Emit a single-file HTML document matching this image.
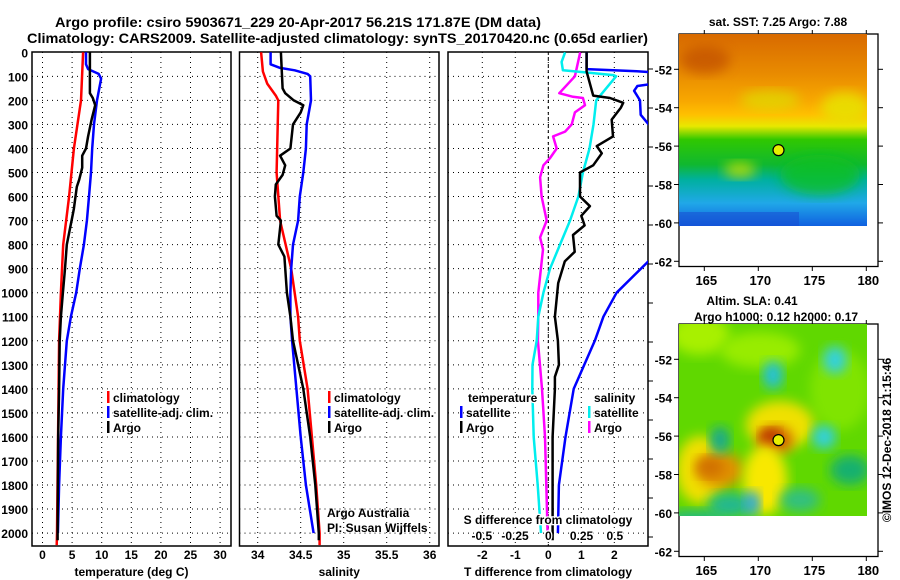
<!DOCTYPE html>
<html><head><meta charset="utf-8">
<style>
html,body{margin:0;padding:0;background:#fff;}
svg{display:block;font-family:"Liberation Sans",sans-serif;}
text{font-weight:bold;}
</style></head>
<body>
<svg id="chart" width="900" height="580" viewBox="0 0 900 580" xmlns="http://www.w3.org/2000/svg">
<defs>
<filter id="blur" x="-20%" y="-20%" width="140%" height="140%"><feGaussianBlur stdDeviation="6"/></filter>
<clipPath id="clipP1"><rect x="32" y="52" width="199" height="494"/></clipPath>
<clipPath id="clipP2"><rect x="239.5" y="52" width="199.5" height="494"/></clipPath>
<clipPath id="clipP3"><rect x="448" y="52" width="200" height="494"/></clipPath>
<clipPath id="clipM1"><rect x="679" y="34" width="188" height="192"/></clipPath>
<clipPath id="clipM2"><rect x="679" y="324" width="188" height="192"/></clipPath>
<linearGradient id="sstGrad" x1="0" y1="0" x2="0" y2="1">
<stop offset="0" stop-color="#d86a00"/>
<stop offset="0.2" stop-color="#e88a00"/>
<stop offset="0.35" stop-color="#f8a800"/>
<stop offset="0.42" stop-color="#ffc000"/>
<stop offset="0.48" stop-color="#e8e800"/>
<stop offset="0.55" stop-color="#30c800"/>
<stop offset="0.68" stop-color="#10b830"/>
<stop offset="0.76" stop-color="#00b0a0"/>
<stop offset="0.88" stop-color="#20a8e8"/>
<stop offset="1" stop-color="#1060e0"/>
</linearGradient>
</defs>
<g>
<text x="55" y="27" font-size="14" textLength="486" lengthAdjust="spacingAndGlyphs">Argo profile: csiro 5903671_229 20-Apr-2017 56.21S 171.87E (DM data)</text>
<text x="27" y="43" font-size="14" textLength="621" lengthAdjust="spacingAndGlyphs">Climatology: CARS2009. Satellite-adjusted climatology: synTS_20170420.nc (0.65d earlier)</text>
</g>
<g id="panels"></g>
<g id="maps"></g>
</svg>
<script>
// ---------- data ----------
const tempClimDepth = [0,200,400,600,800,1000,1200,2000,2050];
const tempClimVal   = [6.85,6.5,5.3,4.5,3.5,3.1,2.8,2.45,2.4];
const tempSatDepth  = [0,50,70,90,110,200,300,400,500,600,700,800,900,1000,1100,1200,1400,1600,1800,2000];
const tempSatVal    = [7.35,7.35,7.7,9.5,9.9,9.2,8.7,8.4,8.2,7.85,7.5,7.0,6.3,5.7,4.8,4.1,3.5,3.1,2.8,2.6];
const tempArgoDepth = [0,170,190,220,280,350,400,430,480,530,560,650,670,800,900,1000,1100,1200,1400,1600,2000,2030];
const tempArgoVal   = [8.0,8.0,8.5,8.9,8.3,7.7,7.35,6.7,6.7,6.2,5.8,5.3,5.15,4.1,3.8,3.45,3.1,2.9,2.8,2.65,2.55,2.55];

const salClimDepth = [0,80,130,180,200,500,700,900,1100,1200,1400,1600,1800,2000,2050];
const salClimVal   = [34.04,34.06,34.11,34.21,34.24,34.22,34.26,34.39,34.47,34.49,34.58,34.63,34.68,34.72,34.72];
const salSatDepth  = [0,50,65,75,90,100,200,300,400,500,600,700,800,900,1000,1100,1200,1400,1600,1800,2000];
const salSatVal    = [34.15,34.15,34.26,34.43,34.58,34.61,34.62,34.57,34.56,34.53,34.49,34.47,34.41,34.39,34.38,34.38,34.40,34.45,34.50,34.56,34.65];
const salArgoDepth = [0,150,170,200,220,250,300,400,430,470,510,550,600,680,700,800,850,1000,1100,1200,1400,1600,1800,2000,2030];
const salArgoVal   = [34.27,34.29,34.32,34.42,34.53,34.50,34.41,34.38,34.26,34.32,34.29,34.21,34.20,34.22,34.27,34.24,34.31,34.34,34.38,34.41,34.53,34.61,34.67,34.71,34.71];

const dTArgoDepth = [0,80,130,180,190,210,230,280,350,390,420,470,500,600,640,680,720,760,830,870,960,1100,1200,1300,1350,1400,1600,2000,2030];
const dTArgoVal   = [1.16,1.16,1.26,1.36,1.87,2.27,2.2,1.92,1.96,1.47,1.62,1.36,0.96,0.96,1.26,1.0,1.1,0.75,0.8,0.5,0.3,0.2,0.29,0.32,0.2,0.2,0.13,0.13,0.13];
const dTSatDepth  = [0,70,78,85,130,140,160,200,260,310,400,850,870,1000,1100,1150,1200,1400,1600,1800,2000];
const dTSatVal    = [1.16,1.16,2.6,3.4,3.2,2.7,2.6,2.78,2.8,3.1,3.6,3.6,3.03,2.07,1.67,1.54,1.41,0.77,0.52,0.32,0.29];
const dSSatDepth  = [0,40,75,80,95,100,200,300,400,500,600,700,800,900,1000,1100,1200,1300,1400,1600,1800,2000];
const dSSatVal    = [0.126,0.1,0.11,0.21,0.49,0.51,0.36,0.34,0.31,0.26,0.226,0.163,0.088,0.013,-0.037,-0.075,-0.087,-0.119,-0.12,-0.11,-0.08,-0.055];
const dSArgoDepth = [0,100,170,185,190,220,250,300,330,350,400,440,470,520,600,700,770,820,1000,1100,1200,1400,1600,2000];
const dSArgoVal   = [0.24,0.20,0.083,0.186,0.26,0.276,0.2,0.176,0.126,0.036,0.063,0.013,-0.037,-0.062,-0.05,-0.012,-0.062,-0.04,-0.075,-0.075,-0.078,-0.047,-0.025,-0.005];

const depthTicks = [0,100,200,300,400,500,600,700,800,900,1000,1100,1200,1300,1400,1500,1600,1700,1800,1900,2000];
const tempTicks = [0,5,10,15,20,25,30];
const salTicks = [34,34.5,35,35.5,36];
const salTickLabels = ["34","34.5","35","35.5","36"];
const dTTicks = [-2,-1,0,1,2];
const dSTicks = [-0.5,-0.25,0,0.25,0.5];
const dSTickLabels = ["-0.5","-0.25","0","0.25","0.5"];
const lonTicks = [165,170,175,180];
const latTicks = [-52,-54,-56,-58,-60,-62];
const argoLon = 171.87, argoLat = -56.21;

// ---------- scales ----------
const NS = "http://www.w3.org/2000/svg";
const yD = d => 52.3 + d*0.2404;
const xT = t => 42.5 + t*5.92;
const xS = s => 257.7 + (s-34)*86;
const xDT = v => 548.3 + v*33;
const xDS = v => 548.3 + v*133;
const xLon = l => 704.3 + (l-165)*10.8;
const yLat = (l,off) => off + 69.3 + (-52-l)*19.2;

function el(tag, attrs, parent){
  const e = document.createElementNS(NS, tag);
  for (const k in attrs) e.setAttribute(k, attrs[k]);
  parent.appendChild(e); return e;
}
function txt(parent, x, y, s, size, anchor, fill){
  const t = el('text', {x:x, y:y, 'font-size':size, 'text-anchor':anchor||'start', fill:fill||'#000'}, parent);
  t.textContent = s; return t;
}
const panels = document.getElementById('panels');

function makePanel(name, x0, x1, xs, ticks, labels, title, clip){
  const g = el('g', {}, panels);
  
  
  // grid
  const grid = el('g', {stroke:'#000','stroke-width':1,'stroke-dasharray':'1,4'}, g);
  
  
  depthTicks.forEach(d => { if (d>0) el('line',{x1:x0,x2:x1,y1:yD(d),y2:yD(d)},grid); });
  ticks.forEach(t => el('line',{x1:xs(t),x2:xs(t),y1:52,y2:546},grid));
  // frame
  const fr = el('rect', {x:x0, y:52, width:x1-x0, height:494, fill:'none', stroke:'#000','stroke-width':1.5}, g);
  
  
  // x tick labels
  const xl = el('g', {}, g);
  
  
  ticks.forEach((t,i) => txt(xl, xs(t), 559, labels[i], 12, 'middle'));
  const tt = txt(g, (x0+x1)/2, 576, title, 12, 'middle');
  
  
  return g;
}
function series(g, name, depths, vals, xs, color, clip, w){
  const pts = depths.map((d,i) => xs(vals[i]).toFixed(1)+','+yD(d).toFixed(1)).join(' ');
  const p = el('polyline', {points:pts, fill:'none', stroke:color, 'stroke-width':w||2.5, 'clip-path':'url(#'+clip+')', 'stroke-linejoin':'round'}, g);
  
  
}
function legend(g, name, x, y, color, label){
  const lg = el('g', {}, g);
  
  
  el('rect', {x:x, y:y-11, width:2.5, height:12, fill:color}, lg);
  const t = txt(lg, x+6, y, label, 12, 'start');
  t.setAttribute('stroke','#fff'); t.setAttribute('stroke-width','2.5'); t.setAttribute('paint-order','stroke');
}

// depth axis labels
const yl = el('g', {}, panels);


depthTicks.forEach(d => txt(yl, 28, yD(d)+5, String(d), 12, 'end'));

// Panel 1 temperature
const p1 = makePanel('temperature-panel', 32, 231, xT, tempTicks, tempTicks.map(String), 'temperature (deg C)');
series(p1, 'temperature-climatology-line', tempClimDepth, tempClimVal, xT, '#f00', 'clipP1');
series(p1, 'temperature-satellite-line', tempSatDepth, tempSatVal, xT, '#00f', 'clipP1');
series(p1, 'temperature-argo-line', tempArgoDepth, tempArgoVal, xT, '#000', 'clipP1');
legend(p1, 'legend-climatology', 107, 402, '#f00', 'climatology');
legend(p1, 'legend-satellite-adj', 107, 417, '#00f', 'satellite-adj. clim.');
legend(p1, 'legend-argo', 107, 432, '#000', 'Argo');

// Panel 2 salinity
const p2 = makePanel('salinity-panel', 239.5, 439, xS, salTicks, salTickLabels, 'salinity');
series(p2, 'salinity-climatology-line', salClimDepth, salClimVal, xS, '#f00', 'clipP2');
series(p2, 'salinity-satellite-line', salSatDepth, salSatVal, xS, '#00f', 'clipP2');
series(p2, 'salinity-argo-line', salArgoDepth, salArgoVal, xS, '#000', 'clipP2');
legend(p2, 'legend2-climatology', 328, 402, '#f00', 'climatology');
legend(p2, 'legend2-satellite-adj', 328, 417, '#00f', 'satellite-adj. clim.');
legend(p2, 'legend2-argo', 328, 432, '#000', 'Argo');
const cr = el('g', {'font-size':12}, p2);


let c1 = txt(cr, 327, 517, 'Argo Australia', 12); c1.setAttribute('font-weight','normal');
let c2 = txt(cr, 327, 532, 'PI: Susan Wijffels', 12); c2.setAttribute('font-weight','normal');

// Panel 3 differences
const p3 = makePanel('difference-panel', 448, 648, xDT, dTTicks, dTTicks.map(String), 'T difference from climatology');
el('line', {x1:xDT(0), x2:xDT(0), y1:52, y2:546, stroke:'#000', 'stroke-dasharray':'3,3'}, p3);
series(p3, 'dS-argo-line', dSArgoDepth, dSArgoVal, xDS, '#f0f', 'clipP3');
series(p3, 'dS-satellite-line', dSSatDepth, dSSatVal, xDS, '#0ee', 'clipP3');
series(p3, 'dT-satellite-line', dTSatDepth, dTSatVal, xDT, '#00f', 'clipP3');
series(p3, 'dT-argo-line', dTArgoDepth, dTArgoVal, xDT, '#000', 'clipP3');
const rt = el('g', {stroke:'#000'}, p3);


for (let y=69; y<546; y+=39) el('line', {x1:648, x2:653, y1:y, y2:y}, rt);
function halo(t){ t.setAttribute('stroke','#fff'); t.setAttribute('stroke-width','2.5'); t.setAttribute('paint-order','stroke'); }
let lt = txt(p3, 468, 402, 'temperature', 12); halo(lt);


let ls = txt(p3, 594, 402, 'salinity', 12); halo(ls);


legend(p3, 'legend3-t-satellite', 460, 417, '#00f', 'satellite');
legend(p3, 'legend3-t-argo', 460, 432, '#000', 'Argo');
legend(p3, 'legend3-s-satellite', 588, 417, '#0ee', 'satellite');
legend(p3, 'legend3-s-argo', 588, 432, '#f0f', 'Argo');
const sdt = txt(p3, 548, 524, 'S difference from climatology', 12, 'middle'); halo(sdt);


const sdl = el('g', {}, p3);


dSTicks.forEach((v,i) => { const t = txt(sdl, xDS(v), 540, dSTickLabels[i], 12, 'middle'); halo(t); });

// ---------- maps ----------
const maps = document.getElementById('maps');
function mapFrame(name, off, title1, title2){
  const g = el('g', {}, maps);
  
  
  const top = off+34;
  const fr = el('rect', {x:679, y:top, width:199, height:232.5, fill:'none', stroke:'#000', 'stroke-width':1.3}, g);
  
  
  latTicks.forEach(l => {
    const y = yLat(l, off);
    el('line', {x1:674, x2:679, y1:y, y2:y, stroke:'#000'}, g);
    el('line', {x1:878, x2:883, y1:y, y2:y, stroke:'#000'}, g);
    txt(g, 672, y+5, String(l), 12, 'end');
  });
  lonTicks.forEach(l => {
    const x = xLon(l);
    el('line', {x1:x, x2:x, y1:top, y2:top-4, stroke:'#000'}, g);
    el('line', {x1:x, x2:x, y1:top+232.5, y2:top+237, stroke:'#000'}, g);
    txt(g, x+2, off+285, String(l), 13, 'middle');
  });
  return g;
}
function dot(g, name, off){
  const c = el('circle', {cx:xLon(argoLon), cy:yLat(argoLat, off), r:5.5, fill:'#e8f000', stroke:'#000', 'stroke-width':1.2}, g);
  
  
}
// SST map
const m1 = mapFrame('sst-map', 0);
const sst = el('g', {'clip-path':'url(#clipM1)'}, m1);


el('rect', {x:679, y:34, width:188, height:192, fill:'url(#sstGrad)'}, sst);
el('ellipse', {cx:705, cy:60, rx:25, ry:14, fill:'#c04e00', opacity:0.7, filter:'url(#blur)'}, sst);
el('ellipse', {cx:845, cy:108, rx:24, ry:16, fill:'#e8e000', opacity:0.9, filter:'url(#blur)'}, sst);
el('ellipse', {cx:770, cy:100, rx:30, ry:10, fill:'#d8e800', opacity:0.6, filter:'url(#blur)'}, sst);
el('ellipse', {cx:740, cy:170, rx:16, ry:8, fill:'#c8e000', opacity:0.8, filter:'url(#blur)'}, sst);
el('ellipse', {cx:820, cy:175, rx:40, ry:20, fill:'#10c020', opacity:0.8, filter:'url(#blur)'}, sst);
el('rect', {x:679, y:212, width:120, height:14, fill:'#1848d0', opacity:0.5}, sst);
const st1 = txt(m1, 778, 26, 'sat. SST: 7.25 Argo: 7.88', 12, 'middle');


dot(m1, 'sst-argo-location', 0);

// SLA map
const m2 = mapFrame('sla-map', 290);
const sla = el('g', {'clip-path':'url(#clipM2)'}, m2);


el('rect', {x:679, y:324, width:188, height:192, fill:'#60d800'}, sla);
const blobs = [
  [700,335,30,20,'#a8f000'],[760,350,40,18,'#98ec00'],[840,390,30,40,'#80e400'],
  [700,470,24,34,'#f0e000'],[720,470,24,18,'#e09000'],[710,467,14,10,'#d07000'],
  [780,425,34,24,'#f0e000'],[775,440,18,14,'#d06000'],[770,437,10,8,'#b83000'],
  [765,480,22,35,'#f8e800'],[695,520,30,10,'#20b880'],[730,505,22,12,'#20b890'],
  [773,375,10,14,'#20c0e0'],[835,360,12,14,'#30d0e0'],[824,437,12,12,'#30d0e0'],
  [752,503,8,12,'#30a8e0'],[720,440,10,14,'#18a890'],[850,470,20,15,'#18b070'],
  [800,500,20,12,'#30c080']
];
blobs.forEach(b => el('ellipse', {cx:b[0], cy:b[1], rx:b[2], ry:b[3], fill:b[4], filter:'url(#blur)'}, sla));
const st2 = txt(m2, 752, 305, 'Altim. SLA: 0.41', 12, 'middle');


const st3 = txt(m2, 776, 321, 'Argo h1000: 0.12 h2000: 0.17', 12, 'middle');


dot(m2, 'sla-argo-location', 290);
const cp = txt(maps, 0, 0, '©IMOS 12-Dec-2018 21:15:46', 12, 'middle');
cp.setAttribute('font-weight','normal');
cp.setAttribute('transform','translate(891,440) rotate(-90)');


</script>
</body></html>
